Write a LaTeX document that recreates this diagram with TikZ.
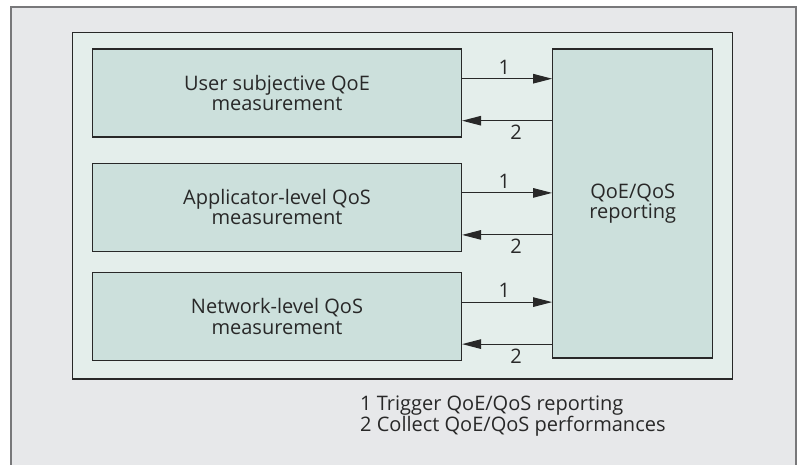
\documentclass[tikz,border=0pt]{standalone}
\usepackage{fontspec}
\setmainfont{Open Sans}
\usetikzlibrary{positioning,arrows.meta,calc}
\definecolor{PageGray}{RGB}{231,232,234}
\definecolor{FrameGray}{RGB}{120,120,122}
\definecolor{PanelMint}{RGB}{228,238,235}
\definecolor{BoxMint}{RGB}{204,224,220}
\definecolor{InkDark}{RGB}{40,40,40}
\tikzset{
  measbox/.style={
    draw=InkDark,
    fill=BoxMint,
    line width=1.2pt,
    minimum width=369pt,
    minimum height=88pt,
    align=center,
    text=InkDark,
    font=\fontsize{20}{20.5}\selectfont
  },
  reportbox/.style={
    draw=InkDark,
    fill=BoxMint,
    line width=1.2pt,
    minimum width=160pt,
    minimum height=309pt,
    align=center,
    text=InkDark,
    font=\fontsize{20}{20.5}\selectfont
  },
  flowarrow/.style={-{Triangle[length=19pt,width=9.5pt]},line width=1.1pt,draw=InkDark},
  numlabel/.style={text=InkDark,font=\fontsize{20}{21}\selectfont,inner sep=2pt}
}

\begin{document}
\begin{tikzpicture}[x=1pt,y=-1pt]
    \useasboundingbox (0,0) rectangle (799,464);
    % background and frames
    \fill[PageGray] (11,7) rectangle (796,470);
    \draw[FrameGray,line width=1.5pt] (11,470) -- (11,7) -- (796,7) -- (796,470);
    \draw[InkDark,fill=PanelMint,line width=1.1pt] (72.7,32.3) rectangle (732.7,379);

    \node[measbox] (user) at (277,93) {User subjective QoE\\measurement};
    \node[measbox,below=25pt of user] (app) {Applicator-level QoS\\measurement};
    \node[measbox,below=20pt of app] (net) {Network-level QoS\\measurement};
    \node[reportbox,anchor=north west] (report) at ($(user.north east)+(90,0)$) {QoE/QoS\\reporting};

    % trigger (1) and collect (2) between each box and the reporting block
    \foreach \src in {user,app,net} {
      \draw[flowarrow] ([yshift=14.3pt]\src.east) -- ([yshift=14.3pt]\src.east -| report.west)
        node[numlabel,pos=0.47,above=2pt] {1};
      \draw[flowarrow] ([yshift=-27.7pt]\src.east -| report.west) -- ([yshift=-27.7pt]\src.east)
        node[numlabel,pos=0.4,below=2pt] {2};
    }

    \node[numlabel,anchor=west,align=left] (legend) at (358,416.5)
      {1 Trigger QoE/QoS reporting\\2 Collect QoE/QoS performances};
\end{tikzpicture}
\end{document}
